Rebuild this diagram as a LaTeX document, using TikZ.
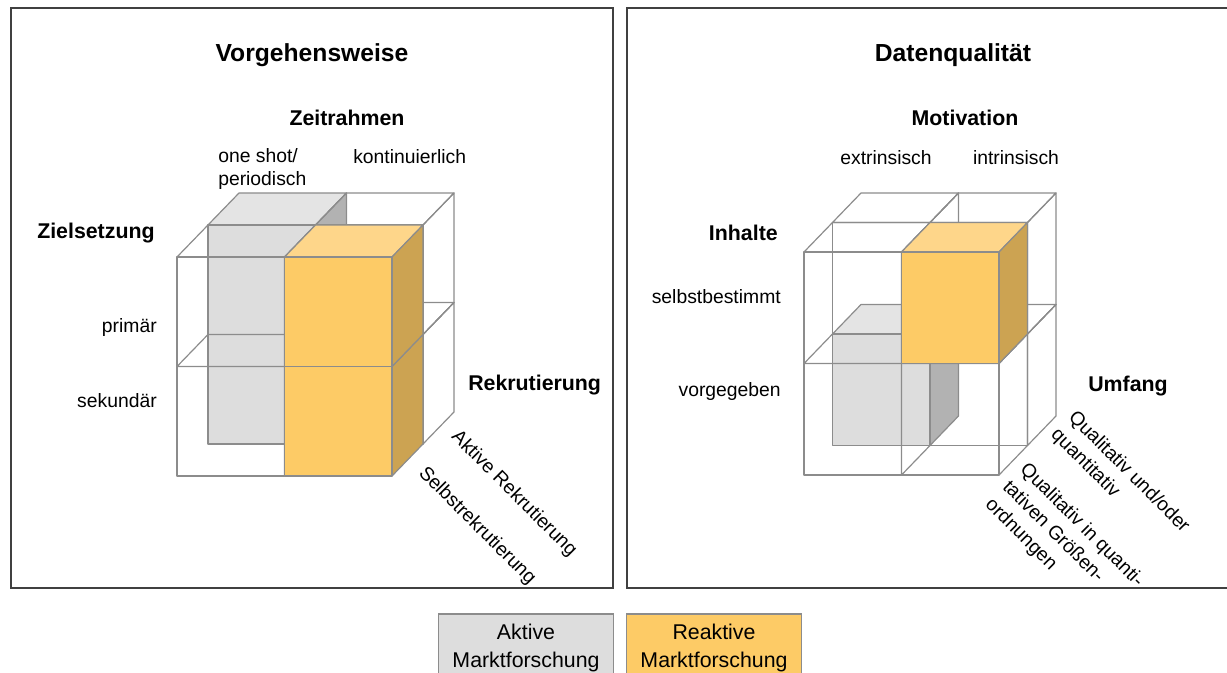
\documentclass[tikz,border=0pt]{standalone}
\usepackage{fontspec}
\setmainfont{Liberation Sans}

\definecolor{kante}{HTML}{8C8C8C}
\definecolor{rahmenfarbe}{HTML}{404040}
\definecolor{grauV}{HTML}{DDDDDD}
\definecolor{grauO}{HTML}{E4E4E4}
\definecolor{grauS}{HTML}{B2B2B2}
\definecolor{orangeV}{HTML}{FDCB66}
\definecolor{orangeO}{HTML}{FED68A}
\definecolor{orangeS}{HTML}{CCA352}

\tikzset{
  zelle/.style={draw=kante, line width=0.9pt, line join=round},
  rahmen/.style={draw=rahmenfarbe, line width=1.4pt},
  titel/.style={font=\fontsize{18.5}{22}\selectfont\bfseries, inner sep=0pt},
  achse/.style={font=\fontsize{16}{19}\selectfont\bfseries, inner sep=0pt},
  lab/.style={font=\fontsize{14.5}{17.5}\selectfont, inner sep=0pt},
  schraeg/.style={lab, font=\fontsize{14.5}{18.5}\selectfont, rotate=-45, align=left},
  legende/.style={draw=kante, line width=0.9pt, font=\fontsize{16}{21}\selectfont,
    align=center, minimum width=131.25pt, minimum height=51pt, inner sep=0pt}
}

% Zelle des Wuerfels: #1 Spalte, #2 Zeile, #3 Ebene, #4 vorne, #5 oben, #6 Seite
\newcommand{\zelle}[6]{%
  \path[zelle, fill=#5] (\ox+#1*\cw+#3*\dx, \oy+#2*\ch+#3*\dy) -- ++(\dx,\dy) -- ++(\cw,0) -- ++(-\dx,-\dy) -- cycle;
  \path[zelle, fill=#6] (\ox+#1*\cw+#3*\dx+\cw, \oy+#2*\ch+#3*\dy) -- ++(\dx,\dy) -- ++(0,\ch) -- ++(-\dx,-\dy) -- cycle;
  \path[zelle, fill=#4] (\ox+#1*\cw+#3*\dx, \oy+#2*\ch+#3*\dy) rectangle ++(\cw,\ch);
}

\begin{document}
\begin{tikzpicture}[x=0.75pt, y=-0.75pt]
\clip (0,0) rectangle (1227,673);

% Rahmen
\draw[rahmen] (11,8) rectangle (613,588);
\draw[rahmen] (627,8) rectangle (1232,588);

% linker Wuerfel
\begin{scope}
  \def\ox{177}\def\oy{257}\def\cw{107.5}\def\ch{109.5}\def\dx{31}\def\dy{-32}
  \zelle{0}{1}{1}{grauV}{grauO}{grauS}
  \zelle{0}{0}{1}{grauV}{grauO}{grauS}
  \zelle{1}{1}{1}{none}{none}{none}
  \zelle{1}{0}{1}{none}{none}{none}
  \zelle{0}{1}{0}{none}{none}{none}
  \zelle{0}{0}{0}{none}{none}{none}
  \zelle{1}{1}{0}{orangeV}{orangeO}{orangeS}
  \zelle{1}{0}{0}{orangeV}{orangeO}{orangeS}
\end{scope}

\node[titel] (vorgehen) at (312,55) {Vorgehensweise};
\node[achse] (zeitrahmen) at (347,118) {Zeitrahmen};
\node[lab, anchor=west, align=left] (oneshot) at (218,169) {one shot/\\periodisch};
\node[lab, anchor=west] (kontinuierlich) at (353,157) {kontinuierlich};
\node[achse, anchor=west] (zielsetzung) at (37,233) {Zielsetzung};
\node[lab, anchor=east] (primaer) at (157,328) {primär};
\node[lab, anchor=east] (sekundaer) at (157,401) {sekundär};
\node[achse, anchor=west] (rekrutierung) at (468,385) {Rekrutierung};
\node[lab, rotate=-45] (aktivrekr) at (514,494) {Aktive Rekrutierung};
\node[lab, rotate=-45] (selbstrekr) at (477,526) {Selbstrekrutierung};

% rechter Wuerfel
\begin{scope}
  \def\ox{804}\def\oy{252}\def\cw{97.5}\def\ch{111.5}\def\dx{28.5}\def\dy{-29.5}
  \zelle{0}{1}{1}{grauV}{grauO}{grauS}
  \zelle{0}{0}{1}{none}{none}{none}
  \zelle{1}{0}{1}{none}{none}{none}
  \zelle{1}{1}{1}{none}{none}{none}
  \zelle{0}{0}{0}{none}{none}{none}
  \zelle{0}{1}{0}{none}{none}{none}
  \zelle{1}{1}{0}{none}{none}{none}
  \zelle{1}{0}{0}{orangeV}{orangeO}{orangeS}
\end{scope}

\node[titel] (datenqualitaet) at (953,55) {Datenqualität};
\node[achse] (motivation) at (965,118) {Motivation};
\node[lab] (extrinsisch) at (886,158) {extrinsisch};
\node[lab] (intrinsisch) at (1016,158) {intrinsisch};
\node[achse, anchor=east] (inhalte) at (778,233) {Inhalte};
\node[lab, anchor=east] (selbstbestimmt) at (781,297) {selbstbestimmt};
\node[lab, anchor=east] (vorgegeben) at (781,392) {vorgegeben};
\node[achse, anchor=west] (umfang) at (1088,386) {Umfang};
\node[schraeg] (undoder) at (1120,481) {Qualitativ und/oder\\quantitativ};
\node[schraeg] (groessen) at (1064,543) {Qualitativ in quanti-\\tativen Größen-\\ordnungen};

% Legende
\node[legende, fill=grauV] (aktiv) at (526,648) {Aktive\\Marktforschung};
\node[legende, fill=orangeV] (reaktiv) at (714,648) {Reaktive\\Marktforschung};
\end{tikzpicture}
\end{document}
